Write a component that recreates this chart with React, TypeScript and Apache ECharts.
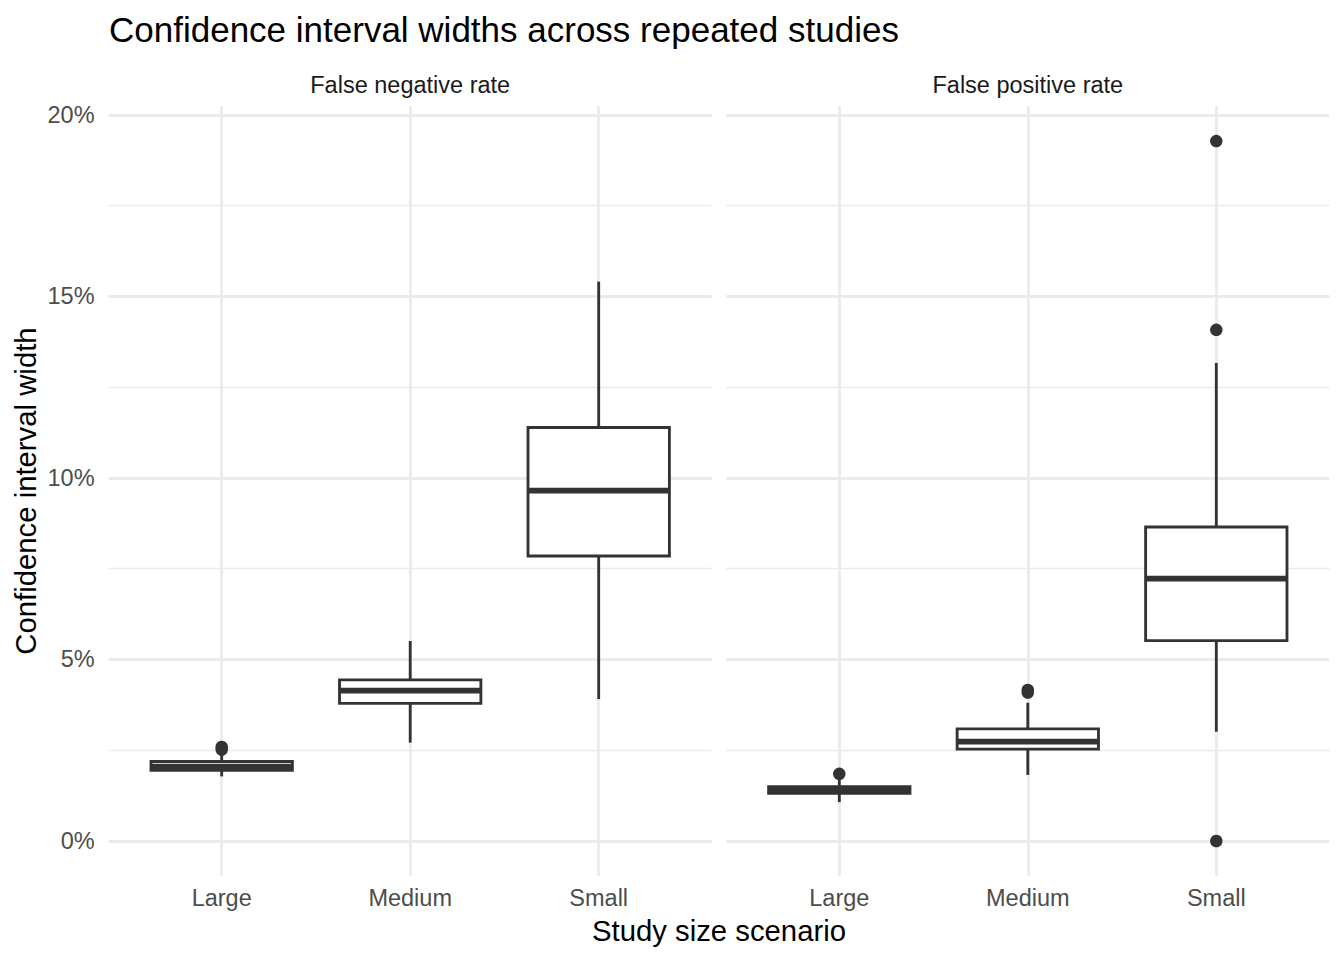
import React, { useEffect, useRef } from "react";
import * as echarts from "echarts";

// ---------- data ----------
const facets = ["False negative rate", "False positive rate"];
const categories = ["Large", "Medium", "Small"];

// five-number summaries (percent): [lower whisker, Q1, median, Q3, upper whisker]
const fnrLarge = [1.78, 1.95, 2.05, 2.19, 2.37];
const fnrMedium = [2.71, 3.79, 4.14, 4.44, 5.51];
const fnrSmall = [3.91, 7.85, 9.65, 11.39, 15.41];
const fprLarge = [1.07, 1.31, 1.38, 1.5, 1.68];
const fprMedium = [1.82, 2.53, 2.74, 3.09, 3.81];
const fprSmall = [3.01, 5.52, 7.23, 8.65, 13.17];

const fnrStats = [fnrLarge, fnrMedium, fnrSmall];
const fprStats = [fprLarge, fprMedium, fprSmall];

// outliers: [category, value %]
const fnrOutliers: [string, number][] = [
  ["Large", 2.59],
  ["Large", 2.52],
];
const fprOutliers: [string, number][] = [
  ["Large", 1.85],
  ["Medium", 4.16],
  ["Medium", 4.09],
  ["Small", 19.28],
  ["Small", 14.08],
  ["Small", 0],
];

const minorBreaks = [2.5, 7.5, 12.5, 17.5];

const panelStats = [fnrStats, fprStats];
const panelOutliers = [fnrOutliers, fprOutliers];

// ---------- styling / layout ----------
const FONT = "'Liberation Sans', Arial, Helvetica, sans-serif";
const LINE = "#333333";
const GRID_COLOR = "#ebebeb";
const LW = 2.85;
const PANEL_LEFT = [108.6, 726.2];
const PANEL_TOP = 106.1;
const PANEL_W = 603.2;
const PANEL_H = 769.9;
const BOX_WIDTH = 0.75;

const allValues: number[] = [
  ...fnrStats.flat(),
  ...fprStats.flat(),
  ...fnrOutliers.map((d) => d[1]),
  ...fprOutliers.map((d) => d[1]),
];
const dMin = Math.min(...allValues);
const dMax = Math.max(...allValues);
const yMin = dMin - 0.05 * (dMax - dMin);
const yMax = dMax + 0.05 * (dMax - dMin);

function renderBox(params: any, api: any) {
  const x = api.value(0);
  const lo = api.value(1);
  const q1 = api.value(2);
  const med = api.value(3);
  const q3 = api.value(4);
  const hi = api.value(5);
  const pLo = api.coord([x, lo]);
  const pQ1 = api.coord([x, q1]);
  const pMed = api.coord([x, med]);
  const pQ3 = api.coord([x, q3]);
  const pHi = api.coord([x, hi]);
  const hw = (api.size([1, 0])[0] * BOX_WIDTH) / 2;
  const stroke = { stroke: LINE, lineWidth: LW, fill: null };
  return {
    type: "group",
    children: [
      { type: "line", shape: { x1: pLo[0], y1: pLo[1], x2: pQ1[0], y2: pQ1[1] }, style: stroke },
      { type: "line", shape: { x1: pQ3[0], y1: pQ3[1], x2: pHi[0], y2: pHi[1] }, style: stroke },
      {
        type: "rect",
        shape: { x: pQ3[0] - hw, y: pQ3[1], width: 2 * hw, height: pQ1[1] - pQ3[1] },
        style: { fill: "#ffffff", stroke: LINE, lineWidth: LW },
      },
      {
        type: "line",
        shape: { x1: pMed[0] - hw, y1: pMed[1], x2: pMed[0] + hw, y2: pMed[1] },
        style: { stroke: LINE, lineWidth: LW * 2 },
      },
    ],
  };
}

function textEl(text: string, x: number, y: number, size: number, color: string, align: string, rotation = 0) {
  return {
    type: "text",
    x,
    y,
    rotation,
    silent: true,
    style: {
      text,
      fontSize: size,
      fontFamily: FONT,
      fill: color,
      align,
      verticalAlign: "middle",
      textAlign: align,
      textVerticalAlign: "middle",
    },
  };
}

export default function App() {
  const ref = useRef<HTMLDivElement>(null);

  useEffect(() => {
    if (!ref.current) return;
    const chart = echarts.init(ref.current, undefined, { renderer: "svg" });

    const grid = PANEL_LEFT.map((l) => ({
      left: l,
      top: PANEL_TOP,
      width: PANEL_W,
      height: PANEL_H,
    }));

    const xAxis = PANEL_LEFT.map((_, p) => ({
      type: "value",
      gridIndex: p,
      min: 0.4,
      max: 3.6,
      splitNumber: 3,
      minInterval: 1,
      maxInterval: 1,
      axisLine: { show: false },
      axisTick: { show: false },
      axisLabel: {
        show: true,
        showMinLabel: false,
        showMaxLabel: false,
        margin: 10,
        fontSize: 23.5,
        fontFamily: FONT,
        color: "#4d4d4d",
        formatter: (v: number) => {
          const i = Math.round(v);
          return Math.abs(v - i) < 1e-6 && categories[i - 1] ? categories[i - 1] : "";
        },
      },
      splitLine: {
        show: true,
        showMinLine: false,
        showMaxLine: false,
        lineStyle: { color: GRID_COLOR, width: LW },
      },
    }));

    const yAxis = PANEL_LEFT.map((_, p) => ({
      type: "value",
      gridIndex: p,
      min: yMin,
      max: yMax,
      splitNumber: 5,
      minInterval: 5,
      maxInterval: 5,
      axisLine: { show: false },
      axisTick: { show: false },
      axisLabel: {
        show: p === 0,
        showMinLabel: false,
        showMaxLabel: false,
        margin: 14,
        fontSize: 23.5,
        fontFamily: FONT,
        color: "#4d4d4d",
        formatter: (v: number) => `${Math.round(v)}%`,
      },
      splitLine: {
        show: true,
        showMinLine: false,
        showMaxLine: false,
        lineStyle: { color: GRID_COLOR, width: LW },
      },
    }));

    const series: any[] = [];
    panelStats.forEach((stats, p) => {
      series.push({
        type: "custom",
        xAxisIndex: p,
        yAxisIndex: p,
        z: 3,
        silent: true,
        data: stats.map((s, i) => [i + 1, ...s]),
        encode: { x: 0, y: [1, 2, 3, 4, 5] },
        renderItem: renderBox,
      });
      series.push({
        type: "scatter",
        xAxisIndex: p,
        yAxisIndex: p,
        z: 2,
        silent: true,
        symbol: "circle",
        symbolSize: 12.5,
        itemStyle: { color: LINE, opacity: 1 },
        data: panelOutliers[p].map(([c, v]) => [categories.indexOf(c) + 1, v]),
        markLine: {
          silent: true,
          z: 1,
          symbol: ["none", "none"],
          label: { show: false },
          emphasis: { disabled: true },
          lineStyle: { color: GRID_COLOR, width: LW / 2, type: "solid" },
          data: minorBreaks.map((v) => ({ yAxis: v })),
        },
      });
    });

    const graphic = [
      textEl("Confidence interval widths across repeated studies", 109, 29, 35, "#000000", "left"),
      ...facets.map((f, p) =>
        textEl(f, PANEL_LEFT[p] + PANEL_W / 2, 85, 23.5, "#1a1a1a", "center")
      ),
      textEl(
        "Study size scenario",
        (PANEL_LEFT[0] + PANEL_LEFT[1] + PANEL_W) / 2,
        930,
        29.3,
        "#000000",
        "center"
      ),
      textEl("Confidence interval width", 25, PANEL_TOP + PANEL_H / 2, 29.3, "#000000", "center", Math.PI / 2),
    ];

    chart.setOption({
      animation: false,
      backgroundColor: "#ffffff",
      textStyle: { fontFamily: FONT },
      grid,
      xAxis,
      yAxis,
      series,
      graphic,
    });

    return () => chart.dispose();
  }, []);

  return (
    <div
      ref={ref}
      style={{ position: "fixed", left: 0, top: 0, width: 1344, height: 960 }}
    />
  );
}
